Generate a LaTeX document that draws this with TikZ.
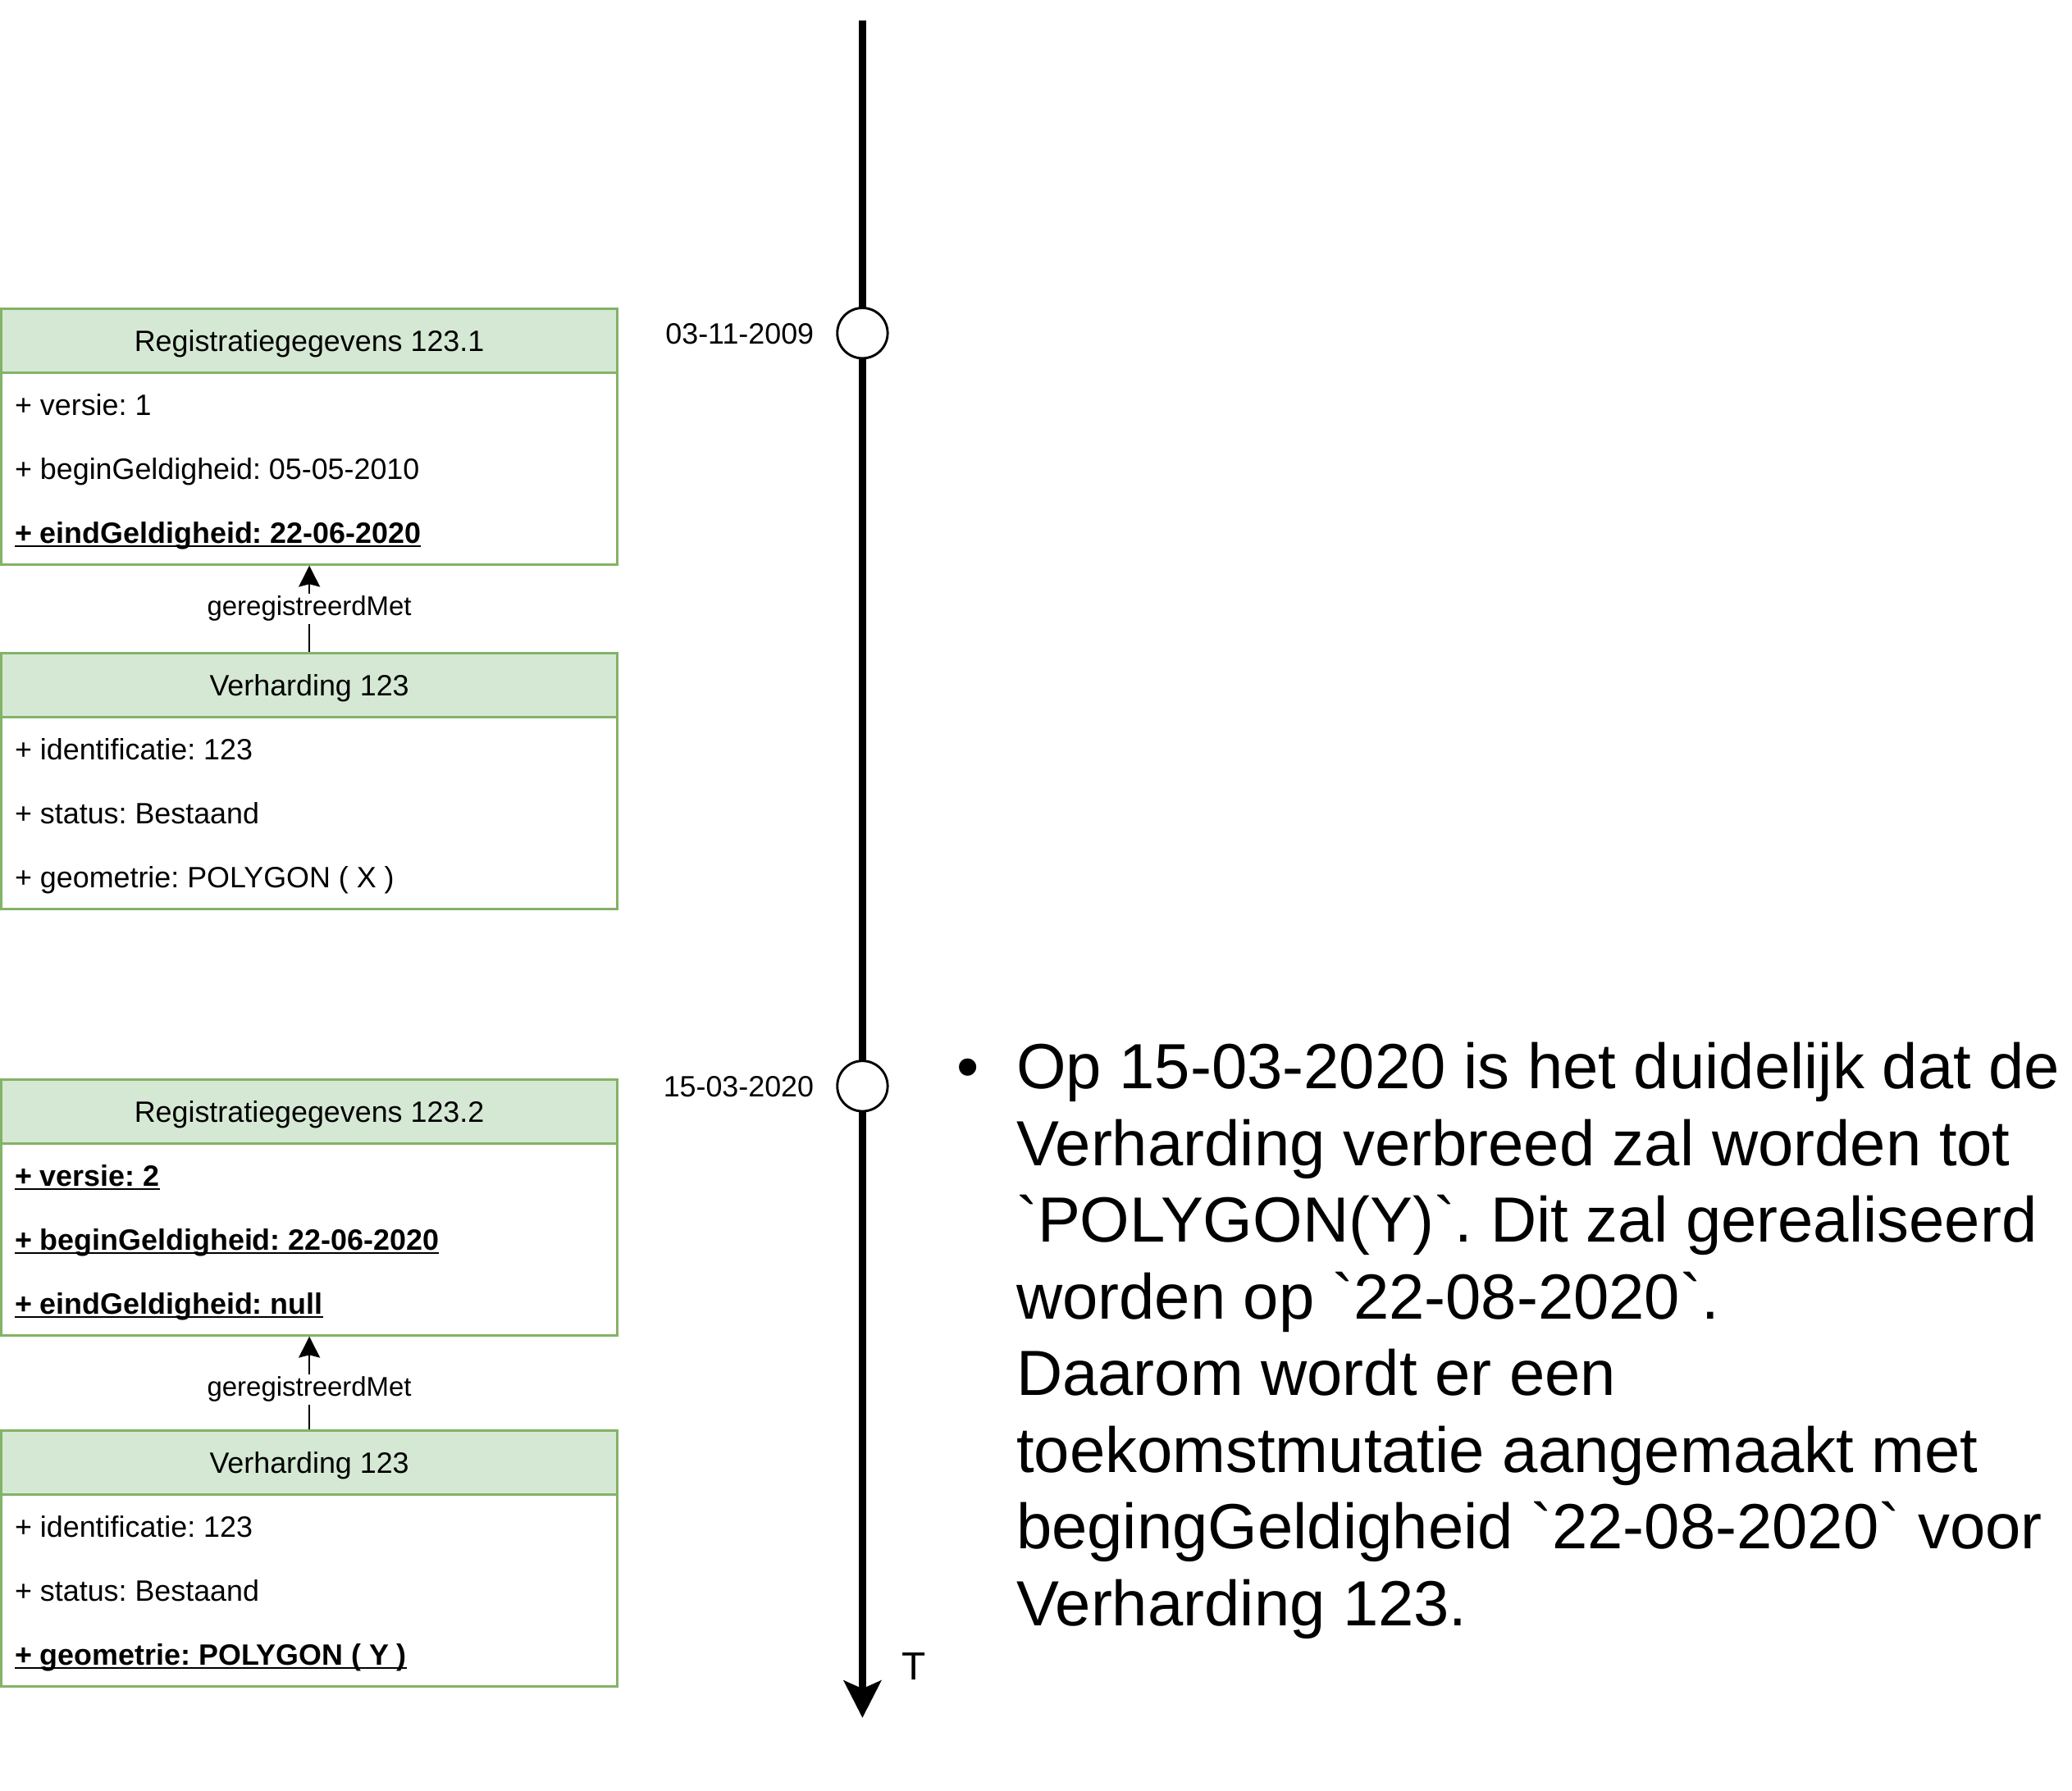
\documentclass[tikz,border=0pt]{standalone}
\usepackage{fontspec}
\setmainfont{Liberation Sans}[Ligatures=TeXOff]
\usetikzlibrary{arrows.meta}
\definecolor{umlgreen}{HTML}{82B366}
\definecolor{umlfill}{HTML}{D5E8D4}
\newcommand{\ulattr}[1]{\setbox0\hbox{\textbf{#1}}\rlap{\rule[-3pt]{\wd0}{1.4pt}}\box0}
\frenchspacing

\begin{document}
\begin{tikzpicture}
	[x=1pt, y=-1pt,
	 every node/.style={inner sep=0pt,font=\fontsize{22.2}{26.6}\selectfont},
	 head/.style={draw=umlgreen,fill=umlfill,line width=1.65pt,minimum width=465pt,minimum height=48.3pt,text height=16pt,text depth=0pt},
	 body/.style={draw=umlgreen,line width=1.65pt,minimum width=465pt,minimum height=144.9pt},
	 attr/.style={anchor=west,text height=16pt,text depth=0pt},
	 rel/.style={fill=white,inner sep=2pt,font=\fontsize{20.4}{24.5}\selectfont},
	 assoc/.style={line width=1.65pt,-{Stealth[length=16pt,width=16pt,inset=2pt]}},
	 tick/.style={draw,circle,fill=white,line width=1.8pt,minimum size=38pt},
	 date/.style={anchor=east,text height=16pt,text depth=0pt},
	 timeline/.style={line width=5.6pt,-{Stealth[length=28pt,width=28pt,inset=6pt]}},
	 note/.style={anchor=base west,font=\fontsize{48.2}{57.9}\selectfont} ]

\useasboundingbox (0,0) rectangle (1564,1352);

% timeline
\coordinate (tstart) at (651,15.5);
\coordinate (tend) at (651,1297);
\draw[timeline] (tstart) -- (tend);
\node [tick] (c2009) at (651,251.5) {};
\node [tick] (c2020) at (651,820) {};
\node [date] (d2009) at (614.5,252) {03-11-2009};
\node [date] (d2020) at (614.5,820) {15-03-2020};
\node [font=\fontsize{29.6}{35}\selectfont] (tlabel) at (690,1258) {T};

% first state
\node [head] (reg1h) at (233.5,257.15) {Registratiegegevens 123.1};
\node [body] (reg1b) at (233.5,353.75) {};
\node [attr] (reg1a) at (11,305.45) {+ versie: 1};
\node [attr] (reg1c) at (11,353.75) {+ beginGeldigheid: 05-05-2010};
\node [attr] (reg1d) at (11,402.05) {\ulattr{+ eindGeldigheid: 22-06-2020}};

\node [head] (ver1h) at (233.5,517.15) {Verharding 123};
\node [body] (ver1b) at (233.5,613.75) {};
\node [attr] (ver1a) at (11,565.45) {+ identificatie: 123};
\node [attr] (ver1c) at (11,613.75) {+ status: Bestaand};
\node [attr] (ver1d) at (11,662.05) {+ geometrie: POLYGON ( X )};

\draw[assoc] (ver1h) -- node[rel] {geregistreerdMet} (reg1b);

% second state
\node [head] (reg2h) at (233.5,839.15) {Registratiegegevens 123.2};
\node [body] (reg2b) at (233.5,935.75) {};
\node [attr] (reg2a) at (11,887.45) {\ulattr{+ versie: 2}};
\node [attr] (reg2c) at (11,935.75) {\ulattr{+ beginGeldigheid: 22-06-2020}};
\node [attr] (reg2d) at (11,984.05) {\ulattr{+ eindGeldigheid: null}};

\node [head] (ver2h) at (233.5,1104.15) {Verharding 123};
\node [body] (ver2b) at (233.5,1200.75) {};
\node [attr] (ver2a) at (11,1152.45) {+ identificatie: 123};
\node [attr] (ver2c) at (11,1200.75) {+ status: Bestaand};
\node [attr] (ver2d) at (11,1249.05) {\ulattr{+ geometrie: POLYGON ( Y )}};

\draw[assoc] (ver2h) -- node[rel,pos=0.43] {geregistreerdMet} (reg2b);

% explanation
\node [note] (bullet) at (722,822) {\textbullet};
\node [note] (explain) at (767,822) {\parbox[t]{820pt}{\raggedright
Op 15-03-2020 is het duidelijk dat de\\
Verharding verbreed zal worden tot\\
`POLYGON(Y)`. Dit zal gerealiseerd\\
worden op `22-08-2020`.\\
Daarom wordt er een\\
toekomstmutatie aangemaakt met\\
begingGeldigheid `22-08-2020` voor\\
Verharding 123.}};

\end{tikzpicture}
\end{document}
